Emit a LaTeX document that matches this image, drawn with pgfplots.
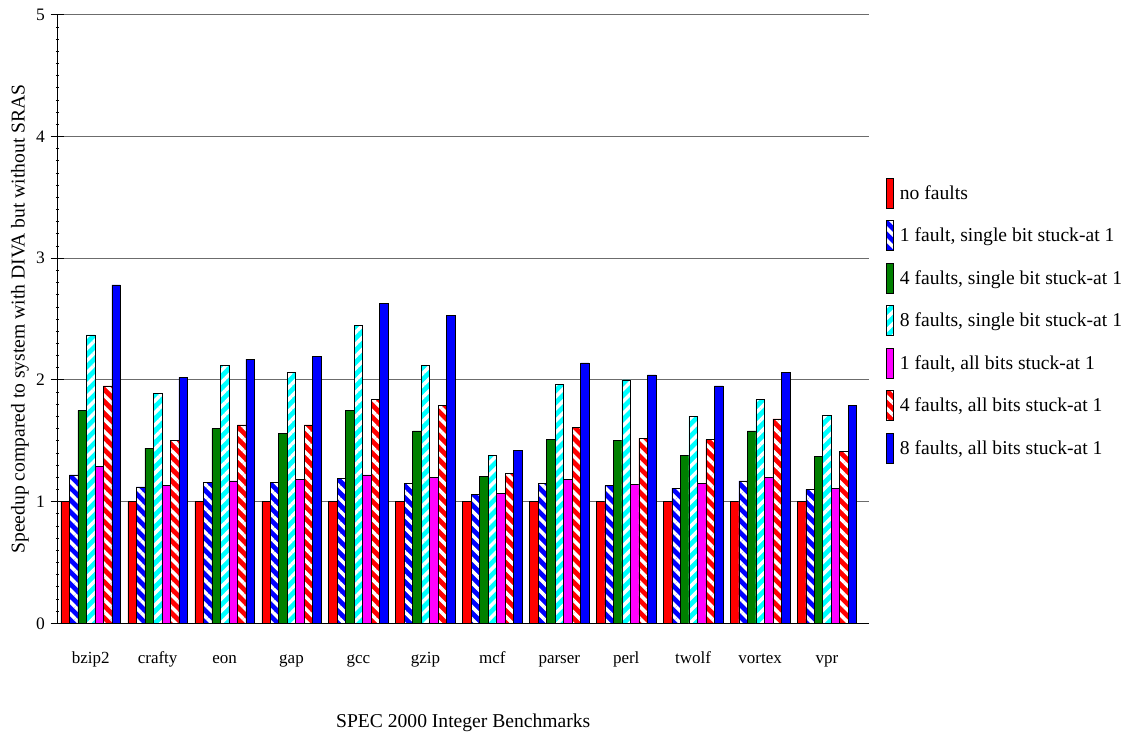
\documentclass[border=0pt]{standalone}
\usepackage{pgfplots}
\pgfplotsset{compat=1.18}
\usepackage{pgfplotstable}
\usepackage{fontspec}
\setmainfont{Liberation Serif}
\usetikzlibrary{patterns.meta}

\pgfplotstableread{
x  nf   sa   sb   sc   aa   ab   ac
0  1.00 1.22 1.75 2.37 1.29 1.95 2.78
1  1.00 1.12 1.44 1.89 1.13 1.50 2.02
2  1.00 1.16 1.60 2.12 1.17 1.63 2.17
3  1.00 1.16 1.56 2.06 1.18 1.63 2.19
4  1.00 1.19 1.75 2.45 1.22 1.84 2.63
5  1.00 1.15 1.58 2.12 1.20 1.79 2.53
6  1.00 1.06 1.21 1.38 1.07 1.23 1.42
7  1.00 1.15 1.51 1.96 1.18 1.61 2.14
8  1.00 1.13 1.50 2.00 1.14 1.52 2.04
9  1.00 1.11 1.38 1.70 1.15 1.51 1.95
10 1.00 1.17 1.58 1.84 1.20 1.68 2.06
11 1.00 1.10 1.37 1.71 1.11 1.41 1.79
}\datatable

\definecolor{cred}{RGB}{255,0,0}
\definecolor{cblue}{RGB}{0,0,255}
\definecolor{cgreen}{RGB}{0,128,0}
\definecolor{ccyan}{RGB}{0,255,255}
\definecolor{cmag}{RGB}{255,0,255}

\tikzset{
  hatchback/.style={postaction={pattern={Lines[angle=-45,distance=8.5pt,line width=3.5pt]},pattern color=white}},
  hatchfwd/.style={postaction={pattern={Lines[angle=45,distance=8.5pt,line width=3.5pt]},pattern color=white}},
}

\begin{document}
\begin{tikzpicture}
\useasboundingbox (-57.5pt,-112.7pt) rectangle (1068.5pt,623.3pt);
\begin{axis}[
  at={(0pt,0pt)}, anchor=south west,
  scale only axis,
  width=811.5pt, height=608.6pt,
  xmin=-0.496, xmax=11.627,
  ymin=0, ymax=5,
  ybar=0pt, bar width=8.49pt,
  axis x line*=bottom, axis y line*=left,
  axis line style={black, line width=0.8pt},
  xtick={0,...,11},
  xticklabels={bzip2,crafty,eon,gap,gcc,gzip,mcf,parser,perl,twolf,vortex,vpr},
  x tick style={draw=none},
  xticklabel style={anchor=base, yshift=-33pt, font=\fontsize{17}{20}\selectfont},
  ytick={0,1,2,3,4,5},
  yticklabel style={anchor=east, xshift=-2pt, font=\fontsize{17.5}{20}\selectfont},
  minor y tick num=9,
  tick align=center,
  major tick length=14pt,
  minor tick length=3.5pt,
  y tick style={black, line width=0.8pt},
  minor y tick style={black, line width=0.6pt},
  ymajorgrids,
  major grid style={gray!85!black, line width=1pt},
  /pgf/number format/assume math mode=true,
  xlabel={SPEC 2000 Integer Benchmarks},
  ylabel={Speedup compared to system with DIVA but without SRAS},
  xlabel style={at={(axis description cs:0.5,-0.1709)}, anchor=base},
  ylabel style={at={(axis description cs:-0.0405,0.5)}, anchor=base},
  label style={font=\fontsize{19.6}{23}\selectfont},
  legend style={at={(axis description cs:1.0206,0.7322)}, anchor=north west,
    draw=none, fill=none, inner sep=0pt, outer sep=0pt, row sep=11.9pt,
    nodes={inner sep=0pt},
    font=\fontsize{19.6}{23}\selectfont,
    /tikz/every odd column/.append style={column sep=6pt}},
  legend cell align=left,
  legend image code/.code={\draw[#1, line width=0.6pt] (0pt,-15pt) rectangle (7.6pt,15pt);},
  every axis plot/.append style={draw=black, line width=0.6pt},
]
\addplot[fill=cred] table[x=x,y=nf] {\datatable};
\addplot[fill=cblue, hatchback] table[x=x,y=sa] {\datatable};
\addplot[fill=cgreen] table[x=x,y=sb] {\datatable};
\addplot[fill=ccyan, hatchfwd] table[x=x,y=sc] {\datatable};
\addplot[fill=cmag] table[x=x,y=aa] {\datatable};
\addplot[fill=cred, hatchback] table[x=x,y=ab] {\datatable};
\addplot[fill=cblue] table[x=x,y=ac] {\datatable};
\legend{no faults,
  {1 fault, single bit stuck-at 1},
  {4 faults, single bit stuck-at 1},
  {8 faults, single bit stuck-at 1},
  {1 fault, all bits stuck-at 1},
  {4 faults, all bits stuck-at 1},
  {8 faults, all bits stuck-at 1}}
\end{axis}
\end{tikzpicture}
\end{document}
